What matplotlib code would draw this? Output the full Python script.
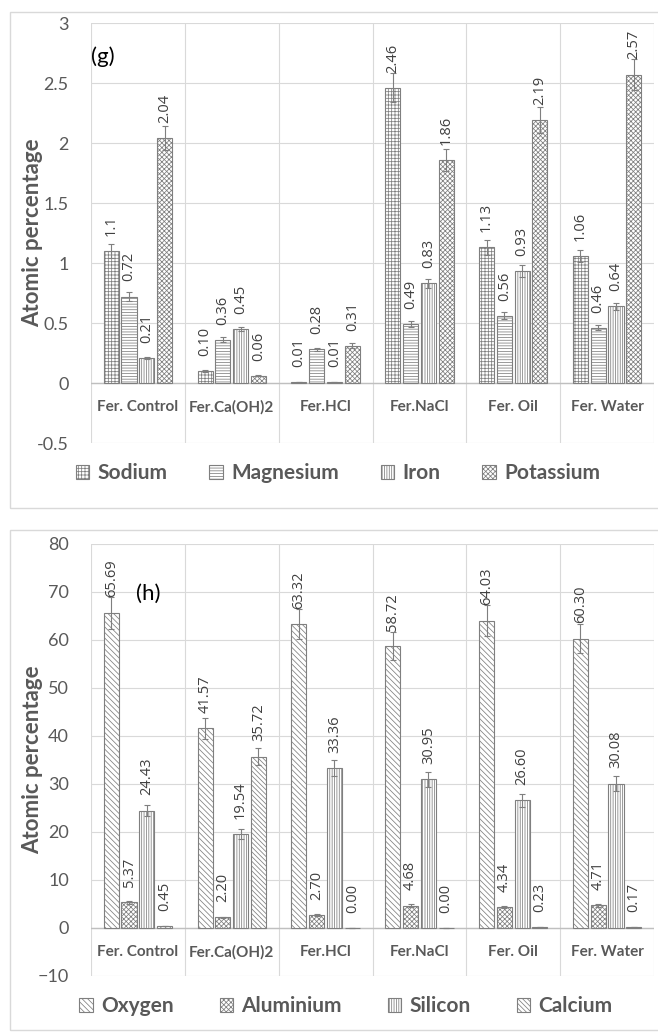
import matplotlib.pyplot as plt
from matplotlib.patches import Rectangle
import numpy as np

plt.rcParams['font.family'] = ['Lato', 'DejaVu Sans']
plt.rcParams['hatch.color'] = '#7f7f7f'
plt.rcParams['hatch.linewidth'] = 0.55

categories = ["Fer. Control", "Fer.Ca(OH)2", "Fer.HCl", "Fer.NaCl", "Fer. Oil", "Fer. Water"]

# panel (g)
g_names = ["Sodium", "Magnesium", "Iron", "Potassium"]
sodium = [1.10, 0.10, 0.01, 2.46, 1.13, 1.06]
magnesium = [0.72, 0.36, 0.28, 0.49, 0.56, 0.46]
iron = [0.21, 0.45, 0.01, 0.83, 0.93, 0.64]
potassium = [2.04, 0.06, 0.31, 1.86, 2.19, 2.57]
sodium_err = [0.06, 0.005, 0.001, 0.12, 0.06, 0.05]
magnesium_err = [0.04, 0.02, 0.015, 0.025, 0.03, 0.02]
iron_err = [0.01, 0.02, 0.001, 0.04, 0.05, 0.03]
potassium_err = [0.10, 0.003, 0.02, 0.09, 0.11, 0.13]
sodium_lbl = ["1.1", "0.10", "0.01", "2.46", "1.13", "1.06"]
magnesium_lbl = ["0.72", "0.36", "0.28", "0.49", "0.56", "0.46"]
iron_lbl = ["0.21", "0.45", "0.01", "0.83", "0.93", "0.64"]
potassium_lbl = ["2.04", "0.06", "0.31", "1.86", "2.19", "2.57"]

# panel (h)
h_names = ["Oxygen", "Aluminium", "Silicon", "Calcium"]
oxygen = [65.69, 41.57, 63.32, 58.72, 64.03, 60.30]
aluminium = [5.37, 2.20, 2.70, 4.68, 4.34, 4.71]
silicon = [24.43, 19.54, 33.36, 30.95, 26.60, 30.08]
calcium = [0.45, 35.72, 0.00, 0.00, 0.23, 0.17]
oxygen_err = [3.3, 2.1, 3.2, 2.9, 3.2, 3.0]
aluminium_err = [0.27, 0.11, 0.14, 0.23, 0.22, 0.24]
silicon_err = [1.2, 1.0, 1.7, 1.5, 1.3, 1.5]
calcium_err = [0.02, 1.8, 0.0, 0.0, 0.01, 0.01]

GRAY = '#595959'
GRID = '#d9d9d9'

fig = plt.figure(figsize=(6.58, 10.34), dpi=100)

# outer frames of both panels
for (y0, y1) in [(12, 508), (530, 1030)]:
    fig.patches.append(Rectangle((10 / 658, 1 - y1 / 1034), 650 / 658, (y1 - y0) / 1034,
                                 transform=fig.transFigure, fill=False,
                                 edgecolor='#d9d9d9', linewidth=1))


def draw_panel(ax, series, errs, labels, names, hatches, ylim, step, cat_y, tag, tag_xy):
    n = len(series)
    x = np.arange(len(categories))
    width = 0.16
    gap = 0.19
    handles = []
    for j in range(n):
        xs = x + (j - (n - 1) / 2) * gap
        b = ax.bar(xs, series[j], width, color='white', edgecolor='#7f7f7f',
                   hatch=hatches[j], linewidth=0.8, zorder=3, label=names[j])
        ax.errorbar(xs, series[j], yerr=errs[j], fmt='none', ecolor='#7f7f7f',
                    elinewidth=0.8, capsize=2.5, capthick=0.8, zorder=4)
        handles.append(b)
        for k in range(len(categories)):
            ax.annotate(labels[j][k], (xs[k], series[j][k]), xytext=(0, 11),
                        textcoords='offset points', rotation=90, ha='center', va='bottom',
                        fontsize=10.5, color='#404040', zorder=5,
                        family=['Open Sans', 'DejaVu Sans'])
    ax.set_xlim(-0.5, len(categories) - 0.5)
    ax.set_ylim(*ylim)
    ax.set_yticks(np.arange(ylim[0], ylim[1] + step / 2, step))
    ax.set_xticks([])
    for b in np.arange(-0.5, len(categories), 1.0):
        ax.axvline(b, color=GRID, linewidth=0.8, zorder=0)
    for t in ax.get_yticks():
        ax.axhline(t, color=GRID, linewidth=0.8, zorder=0)
    ax.axhline(0, color='#bfbfbf', linewidth=1, zorder=2)
    for s in ax.spines.values():
        s.set_visible(False)
    ax.tick_params(axis='y', length=0, labelsize=13, labelcolor=GRAY, pad=16)
    for k, c in enumerate(categories):
        ax.text(k, cat_y, c, ha='center', va='center', fontsize=11,
                fontweight='bold', color=GRAY)
    ax.set_ylabel("Atomic percentage", fontsize=16, fontweight='bold', color=GRAY)
    ax.yaxis.set_label_coords(-0.085, 0.5)
    ax.text(tag_xy[0], tag_xy[1], tag, transform=ax.transAxes, fontsize=16, color='black',
            ha='left', va='center')
    return handles


ax_g = fig.add_axes([91 / 658, 1 - 443 / 1034, 563 / 658, 420 / 1034])
hg = draw_panel(ax_g, [sodium, magnesium, iron, potassium],
                [sodium_err, magnesium_err, iron_err, potassium_err],
                [sodium_lbl, magnesium_lbl, iron_lbl, potassium_lbl],
                g_names, ['+++++', '------', '|||||||', 'xxxxxxx'],
                (-0.5, 3), 0.5, -0.2, "(g)", (0.0, 0.92))
ax_g.set_yticklabels(["-0.5", "0", "0.5", "1", "1.5", "2", "2.5", "3"])

oxygen_lbl = ["%.2f" % v for v in oxygen]
aluminium_lbl = ["%.2f" % v for v in aluminium]
silicon_lbl = ["%.2f" % v for v in silicon]
calcium_lbl = ["%.2f" % v for v in calcium]

ax_h = fig.add_axes([91 / 658, 1 - 976 / 1034, 563 / 658, 432 / 1034])
hh = draw_panel(ax_h, [oxygen, aluminium, silicon, calcium],
                [oxygen_err, aluminium_err, silicon_err, calcium_err],
                [oxygen_lbl, aluminium_lbl, silicon_lbl, calcium_lbl],
                h_names, ['\\\\\\\\\\\\', 'xxxxxxx', '|||||||', '\\\\\\\\\\\\\\'],
                (-10, 80), 10, -5, "(h)", (0.08, 0.885))

fig.legend(hg, g_names, loc='center', bbox_to_anchor=(338 / 658, 1 - 473 / 1034),
           ncol=4, frameon=False, handlelength=0.65, handleheight=0.65, handletextpad=0.4,
           columnspacing=2.0, prop={'weight': 'bold', 'size': 15}, labelcolor=GRAY)
fig.legend(hh, h_names, loc='center', bbox_to_anchor=(346 / 658, 1 - 1006 / 1034),
           ncol=4, frameon=False, handlelength=0.65, handleheight=0.65, handletextpad=0.4,
           columnspacing=2.2, prop={'weight': 'bold', 'size': 15}, labelcolor=GRAY)

fig.savefig("out.png", dpi=100)
